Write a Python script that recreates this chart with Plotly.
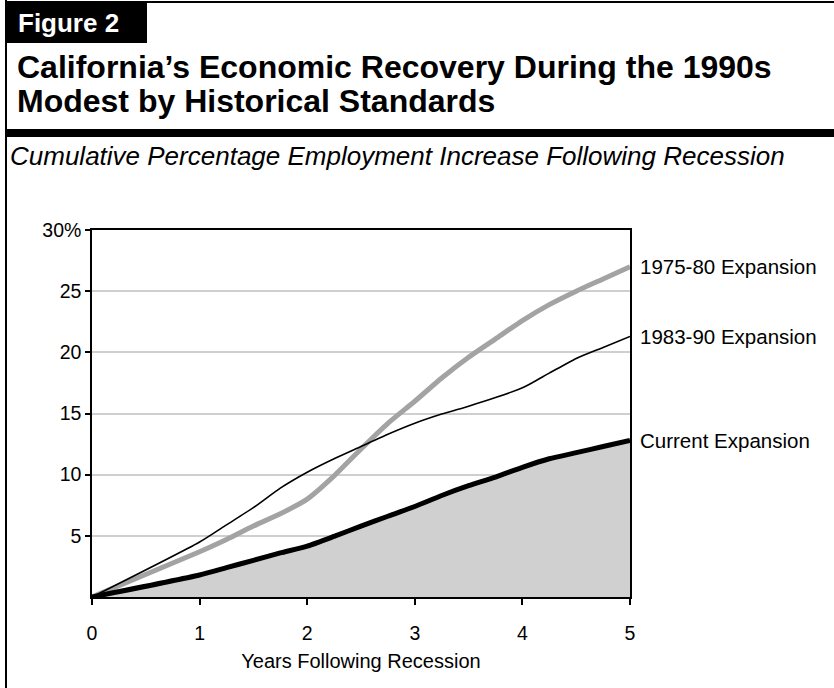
import plotly.graph_objects as go

# ---- data ----
years = [0, 1, 1.25, 1.5, 1.75, 2, 2.25, 2.5, 2.75, 3, 3.25, 3.5, 3.75, 4, 4.25, 4.5, 4.75, 5]
exp_1975_80 = [0, 3.7, 4.7, 5.8, 6.8, 8.0, 9.9, 12.1, 14.2, 16.0, 17.9, 19.6, 21.1, 22.6, 23.9, 25.0, 26.0, 27.0]
exp_1983_90 = [0, 4.5, 5.9, 7.3, 8.9, 10.2, 11.3, 12.3, 13.3, 14.2, 14.95, 15.6, 16.3, 17.1, 18.3, 19.5, 20.4, 21.3]
exp_current = [0, 1.8, 2.4, 3.0, 3.6, 4.15, 4.95, 5.8, 6.6, 7.4, 8.3, 9.1, 9.8, 10.6, 11.3, 11.8, 12.3, 12.8]

series_names = ["1975-80 Expansion", "1983-90 Expansion", "Current Expansion"]
y_tickvals = [5, 10, 15, 20, 25, 30]
y_ticktext = ["5", "10", "15", "20", "25", "30%"]
x_tickvals = [0, 1, 2, 3, 4, 5]

title_line1 = "California’s Economic Recovery During the 1990s"
title_line2 = "Modest by Historical Standards"
subtitle = "Cumulative Percentage Employment Increase Following Recession"
fig_label = "Figure 2"
x_title = "Years Following Recession"

FONT = "Liberation Sans, Arial, Helvetica, sans-serif"
W, H = 834, 688
L, R, T, B = 92, 630, 230, 597  # plot area in pixels


def px(xp):
    return (xp - L) / (R - L)


def py(yp):
    return (B - yp) / (B - T)


fig = go.Figure()

# shaded area under current expansion
fig.add_trace(go.Scatter(x=years, y=exp_current, mode="lines", fill="tozeroy",
                         fillcolor="#d0d0d0", line=dict(width=0, color="#d0d0d0", shape="spline", smoothing=0.6),
                         hoverinfo="skip", showlegend=False))
fig.add_trace(go.Scatter(x=years, y=exp_1975_80, mode="lines", name=series_names[0],
                         line=dict(color="#a3a3a3", width=5, shape="spline", smoothing=0.6), showlegend=False))
fig.add_trace(go.Scatter(x=years, y=exp_1983_90, mode="lines", name=series_names[1],
                         line=dict(color="#000000", width=1.6, shape="spline", smoothing=0.6), showlegend=False))
fig.add_trace(go.Scatter(x=years, y=exp_current, mode="lines", name=series_names[2],
                         line=dict(color="#000000", width=5, shape="spline", smoothing=0.6), showlegend=False))

shapes = [
    # outer frame (left and top)
    dict(type="line", xref="paper", yref="paper", x0=px(6), x1=px(6), y0=py(0), y1=py(H),
         line=dict(color="black", width=2)),
    dict(type="line", xref="paper", yref="paper", x0=px(5), x1=px(W), y0=py(2), y1=py(2),
         line=dict(color="black", width=2)),
    # Figure label box
    dict(type="rect", xref="paper", yref="paper", x0=px(6), x1=px(147), y0=py(3), y1=py(43),
         fillcolor="black", line=dict(width=0)),
    # thick rule under title
    dict(type="rect", xref="paper", yref="paper", x0=px(6), x1=px(W), y0=py(129), y1=py(137),
         fillcolor="black", line=dict(width=0)),
]

annotations = [
    dict(text=f"<b>{fig_label}</b>", xref="paper", yref="paper", x=px(16), y=py(23),
         xanchor="left", yanchor="middle", showarrow=False,
         font=dict(family=FONT, size=26, color="white")),
    dict(text=f"<b>{title_line1}</b>", xref="paper", yref="paper", x=px(15), y=py(67),
         xanchor="left", yanchor="middle", showarrow=False,
         font=dict(family=FONT, size=32, color="black")),
    dict(text=f"<b>{title_line2}</b>", xref="paper", yref="paper", x=px(15), y=py(101),
         xanchor="left", yanchor="middle", showarrow=False,
         font=dict(family=FONT, size=32, color="black")),
    dict(text=f"<i>{subtitle}</i>", xref="paper", yref="paper", x=px(8), y=py(156),
         xanchor="left", yanchor="middle", showarrow=False,
         font=dict(family=FONT, size=26, color="black")),
]
for name, vals in zip(series_names, [exp_1975_80, exp_1983_90, exp_current]):
    annotations.append(dict(text=name, x=years[-1], y=vals[-1], xref="x", yref="y",
                            xanchor="left", yanchor="middle", xshift=8, showarrow=False,
                            font=dict(family=FONT, size=20.5, color="black")))

fig.update_layout(
    width=W, height=H,
    margin=dict(l=L, r=W - R, t=T, b=H - B, pad=0),
    paper_bgcolor="white", plot_bgcolor="white",
    font=dict(family=FONT, color="black", size=19),
    shapes=shapes, annotations=annotations,
    showlegend=False,
    xaxis=dict(range=[0, 5], tickvals=x_tickvals, ticks="outside", ticklen=6,
               tickwidth=1.5, tickcolor="black", showgrid=False, zeroline=False,
               showline=True, linecolor="black", linewidth=2, mirror=True,
               tickfont=dict(family=FONT, size=19.5), ticklabelstandoff=12,
               title=dict(text=x_title, font=dict(family=FONT, size=20), standoff=11)),
    yaxis=dict(range=[0, 30], tickvals=y_tickvals, ticktext=y_ticktext, ticks="outside",
               ticklen=5, tickwidth=1.5, tickcolor="black", showgrid=True,
               gridcolor="#cfcfcf", gridwidth=1.5, zeroline=False,
               showline=True, linecolor="black", linewidth=1.5, mirror=True,
               tickfont=dict(family=FONT, size=19.5)),
)

fig.write_html("out.html")
